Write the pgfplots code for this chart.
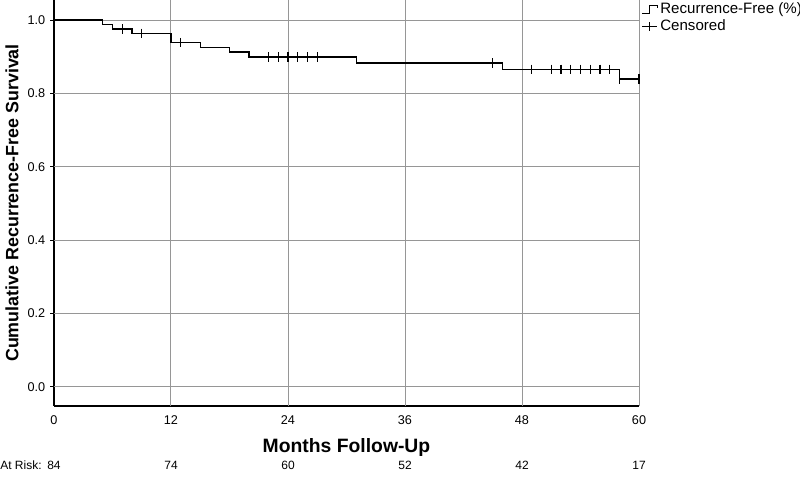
\documentclass[border=0pt]{standalone}
\usepackage{pgfplots}
\pgfplotsset{compat=1.18}
\usepackage{fontspec}
\setmainfont{Liberation Sans}
\definecolor{gridgray}{RGB}{150,150,150}
\begin{document}
\begin{tikzpicture}
\useasboundingbox (-40.5pt,-56.25pt) rectangle (559.5pt,304.5pt);
\begin{axis}[
 at={(0pt,0pt)}, anchor=south west,
 scale only axis, width=438.75pt, height=304.5pt,
 xmin=0, xmax=60, ymin=-0.052, ymax=1.055,
 axis x line=bottom, axis y line=left,
 axis line style={-, black, line width=0.8pt},
 xtick={0,12,24,36,48,60},
 ytick={0,0.2,0.4,0.6,0.8,1.0},
 yticklabel style={xshift=-3pt, /pgf/number format/.cd, fixed, fixed zerofill, precision=1},
 xticklabel style={yshift=-4pt},
 /pgf/number format/assume math mode=true,
 ticklabel style={font=\fontsize{9.5}{10}\selectfont},
 major tick length=0pt,
 xmajorgrids=false, ymajorgrids=false,
 xlabel={Months Follow-Up},
 ylabel={Cumulative Recurrence-Free Survival},
 xlabel style={at={(axis description cs:0.5,-0.1034)}, anchor=center, font=\bfseries\fontsize{14.5}{16}\selectfont},
 ylabel style={at={(axis description cs:-0.0718,0.5)}, anchor=center, font=\bfseries\fontsize{13.4}{15}\selectfont},
 legend style={at={(axis description cs:1,1)}, anchor=north west, xshift=2pt, draw=none, fill=none,
   font=\fontsize{11.3}{12}\selectfont, inner sep=0pt, row sep=-1pt,
   /tikz/every even column/.append style={column sep=0pt}},
 legend cell align=left,
 clip=false,
]
\pgfplotsinvokeforeach{12,24,36,48,60}{\draw[gridgray, line width=0.75pt] (axis cs:#1,-0.052) -- (axis cs:#1,1.055);}
\pgfplotsinvokeforeach{0,0.2,0.4,0.6,0.8,1.0}{\draw[gridgray, line width=0.75pt] (axis cs:0,#1) -- (axis cs:60,#1); \draw[black, line width=0.8pt] (axis cs:0,#1) -- ++(-3pt,0pt);}
\addplot[const plot, black, line width=1pt,
  legend image code/.code={\draw[black, line width=0.8pt] (0pt,-3pt) -- (5pt,-3pt) -- (5pt,3pt) -- (11pt,3pt) -- (11pt,1pt);}]
 coordinates {(0,1.0) (5,0.988) (6,0.976) (8,0.964) (12,0.939) (15,0.926) (18,0.913) (20,0.900) (31,0.883) (46,0.866) (58,0.840) (60,0.840)};
\addlegendentry{Recurrence-Free (\%)}
\addplot[only marks, mark=|, mark size=3.5pt, black, mark options={line width=0.8pt},
  legend image code/.code={\draw[black, line width=0.8pt] (0pt,0pt) -- (11pt,0pt); \draw[black, line width=0.8pt] (5pt,-3.5pt) -- (5pt,3.5pt);}]
 coordinates {(7,0.976) (9,0.964) (13,0.939) (22,0.900) (23,0.900) (24,0.900) (25,0.900) (26,0.900) (27,0.900)
  (45,0.883) (49,0.866) (51,0.866) (52,0.866) (53,0.866) (54,0.866) (55,0.866) (56,0.866) (57,0.866) (58,0.840) (60,0.840)};
\addlegendentry{Censored}
\end{axis}
\begin{scope}[every node/.style={font=\fontsize{9}{10}\selectfont, inner sep=0pt}]
\node[anchor=west] at (-40.5pt,-44.25pt) {At Risk:};
\node at (0pt,-44.25pt) {84};
\node at (87.75pt,-44.25pt) {74};
\node at (175.5pt,-44.25pt) {60};
\node at (263.25pt,-44.25pt) {52};
\node at (351pt,-44.25pt) {42};
\node at (438.75pt,-44.25pt) {17};
\end{scope}
\end{tikzpicture}
\end{document}
